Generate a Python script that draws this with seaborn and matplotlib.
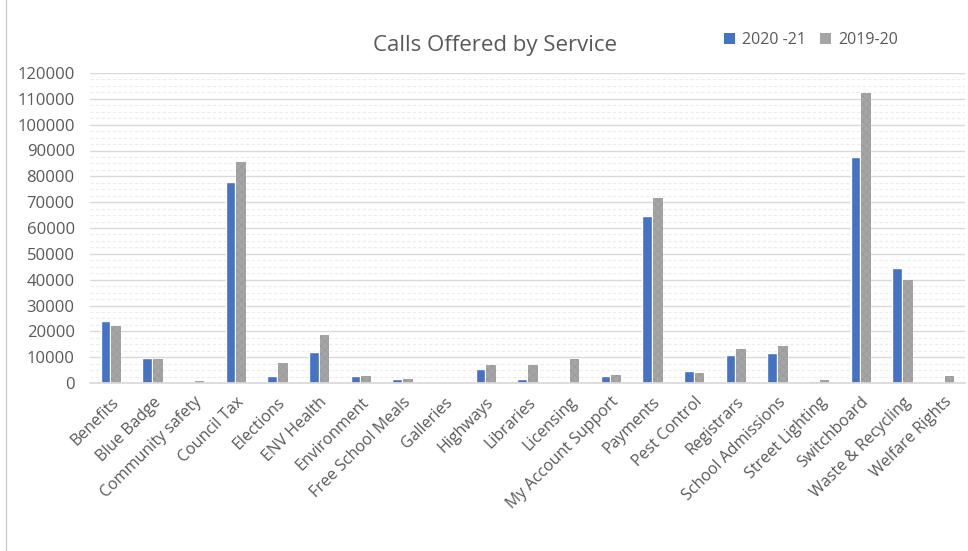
import matplotlib
matplotlib.use("Agg")
import matplotlib.pyplot as plt
import seaborn as sns
import pandas as pd
from matplotlib.lines import Line2D
from matplotlib.patches import Patch

services = ["Benefits", "Blue Badge", "Community safety", "Council Tax", "Elections",
            "ENV Health", "Environment", "Free School Meals", "Galleries", "Highways",
            "Libraries", "Licensing", "My Account Support", "Payments", "Pest Control",
            "Registrars", "School Admissions", "Street Lighting", "Switchboard",
            "Waste & Recycling", "Welfare Rights"]
calls_2020_21 = [24000, 9700, 0, 77700, 2600, 12000, 2600, 1700, 0, 5600,
                 1700, 0, 2600, 64800, 4500, 11000, 11600, 650, 87500, 44400, 0]
calls_2019_20 = [22000, 9100, 700, 85600, 7600, 18500, 2800, 1600, 0, 7100,
                 7100, 9100, 3100, 71600, 4000, 13000, 14500, 1000, 112400, 40000, 2600]
series_names = ["2020 -21", "2019-20"]
y_ticks = list(range(0, 120001, 10000))

df = pd.DataFrame({
    "Service": services * 2,
    "Calls": calls_2020_21 + calls_2019_20,
    "Year": [series_names[0]] * len(services) + [series_names[1]] * len(services),
})

sns.set_theme(style="white")
plt.rcParams["font.family"] = ["Open Sans", "DejaVu Sans"]
plt.rcParams["hatch.linewidth"] = 0.5

fig = plt.figure(figsize=(9.68, 5.51), dpi=100)
ax = fig.add_axes([90 / 968, 1 - 383 / 551, 875 / 968, 310 / 551])

colors = {series_names[0]: "#4472C4", series_names[1]: "#A5A5A5"}
sns.barplot(data=df, x="Service", y="Calls", hue="Year", palette=colors,
            width=0.52, gap=0.1, ax=ax, legend=False, saturation=1)
for bar in ax.containers[1]:
    bar.set_hatch("xxxx")
    bar.set_edgecolor("#999999")
    bar.set_linewidth(0)

ax.set_ylim(0, 120000)
ax.set_xlim(-0.5, len(services) - 0.5)
ax.set_yticks(y_ticks)
ax.set_yticklabels([str(v) for v in y_ticks], fontsize=12, color="#595959")
ax.yaxis.set_minor_locator(matplotlib.ticker.MultipleLocator(2500))
ax.grid(axis="y", which="major", color="#D9D9D9", linewidth=1.0)
ax.grid(axis="y", which="minor", color="#ECECEC", linewidth=0.8, linestyle=(0, (3, 2)))
ax.set_axisbelow(True)
ax.tick_params(axis="y", which="both", length=0, pad=11)
ax.tick_params(axis="x", length=0, pad=8)
for s in ["left", "right", "top"]:
    ax.spines[s].set_visible(False)
ax.spines["bottom"].set_color("#D9D9D9")
ax.set_xlabel("")
ax.set_ylabel("")
ax.set_xticks(range(len(services)))
ax.set_xticklabels(services, rotation=45, ha="right", rotation_mode="anchor",
                   fontsize=11.5, color="#595959")

fig.text(495 / 968, 1 - 46 / 551, "Calls Offered by Service", ha="center", va="center",
         fontsize=16, color="#595959")

handles = [Patch(facecolor=colors[n], edgecolor="none") for n in series_names]
fig.legend(handles, series_names, loc="center", bbox_to_anchor=(811 / 968, 1 - 40 / 551),
           ncol=2, frameon=False, fontsize=11.5, handlelength=0.7, handleheight=0.7,
           handletextpad=0.4, columnspacing=0.9, labelcolor="#595959")

fig.add_artist(Line2D([6 / 968, 6 / 968], [0, 1], transform=fig.transFigure,
                      color="#D0D0D0", linewidth=1))

fig.savefig("out.png", dpi=100, facecolor="white")
